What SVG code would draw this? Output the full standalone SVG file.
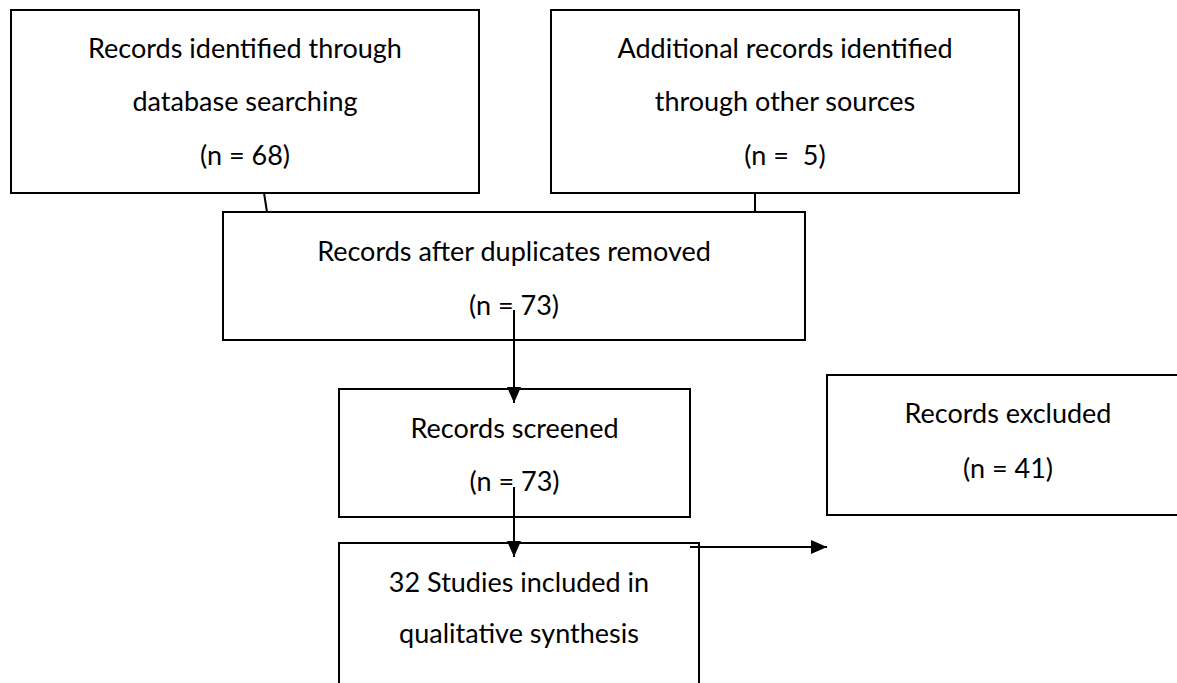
<svg xmlns="http://www.w3.org/2000/svg" width="1177" height="683" viewBox="0 0 1177 683">
  <defs>
    <marker id="arrow" markerWidth="16" markerHeight="14" refX="16" refY="7" orient="auto" markerUnits="userSpaceOnUse">
      <path d="M0,0 L16,7 L0,14 Z" fill="#000"/>
    </marker>
    <style>
      .box { fill: #fff; stroke: #000; stroke-width: 2; }
      .lbl { font-family: Lato, "Open Sans", sans-serif; font-size: 27px; fill: #000; text-anchor: middle; white-space: pre; }
      .conn { stroke: #000; stroke-width: 2; fill: none; }
    </style>
  </defs>
  <rect width="1177" height="683" fill="#fff"/>
  <g id="n1">
    <rect class="box" x="11" y="10" width="468" height="183"/>
    <text class="lbl" x="245" y="58">Records identified through</text>
    <text class="lbl" x="245" y="111">database searching</text>
    <text class="lbl" x="245" y="165">(n = 68)</text>
  </g>
  <g id="n2">
    <rect class="box" x="551" y="10" width="468" height="183"/>
    <text class="lbl" x="785" y="58">Additional records identified</text>
    <text class="lbl" x="785" y="111">through other sources</text>
    <text class="lbl" x="785" y="165" xml:space="preserve">(n =  5)</text>
  </g>
  <g id="n3">
    <rect class="box" x="223" y="212" width="582" height="128"/>
    <text class="lbl" x="514" y="261">Records after duplicates removed</text>
    <text class="lbl" x="514" y="315">(n = 73)</text>
  </g>
  <g id="n4">
    <rect class="box" x="339" y="389" width="351" height="128"/>
    <text class="lbl" x="514.5" y="438">Records screened</text>
    <text class="lbl" x="514.5" y="491">(n = 73)</text>
  </g>
  <g id="n5">
    <rect class="box" x="339" y="543" width="360" height="160"/>
    <text class="lbl" x="519" y="592">32 Studies included in</text>
    <text class="lbl" x="519" y="643">qualitative synthesis</text>
  </g>
  <g id="n6">
    <rect class="box" x="827" y="375" width="370" height="140"/>
    <text class="lbl" x="1008" y="423">Records excluded</text>
    <text class="lbl" x="1008" y="478">(n = 41)</text>
  </g>
  <g id="connectors">
    <line class="conn" x1="264" y1="193" x2="267" y2="212"/>
    <line class="conn" x1="755" y1="193" x2="755" y2="212"/>
    <line class="conn" x1="514" y1="310" x2="514" y2="403" marker-end="url(#arrow)"/>
    <line class="conn" x1="514" y1="487" x2="514" y2="557" marker-end="url(#arrow)"/>
    <line class="conn" x1="690" y1="547" x2="827" y2="547" marker-end="url(#arrow)"/>
  </g>
</svg>
